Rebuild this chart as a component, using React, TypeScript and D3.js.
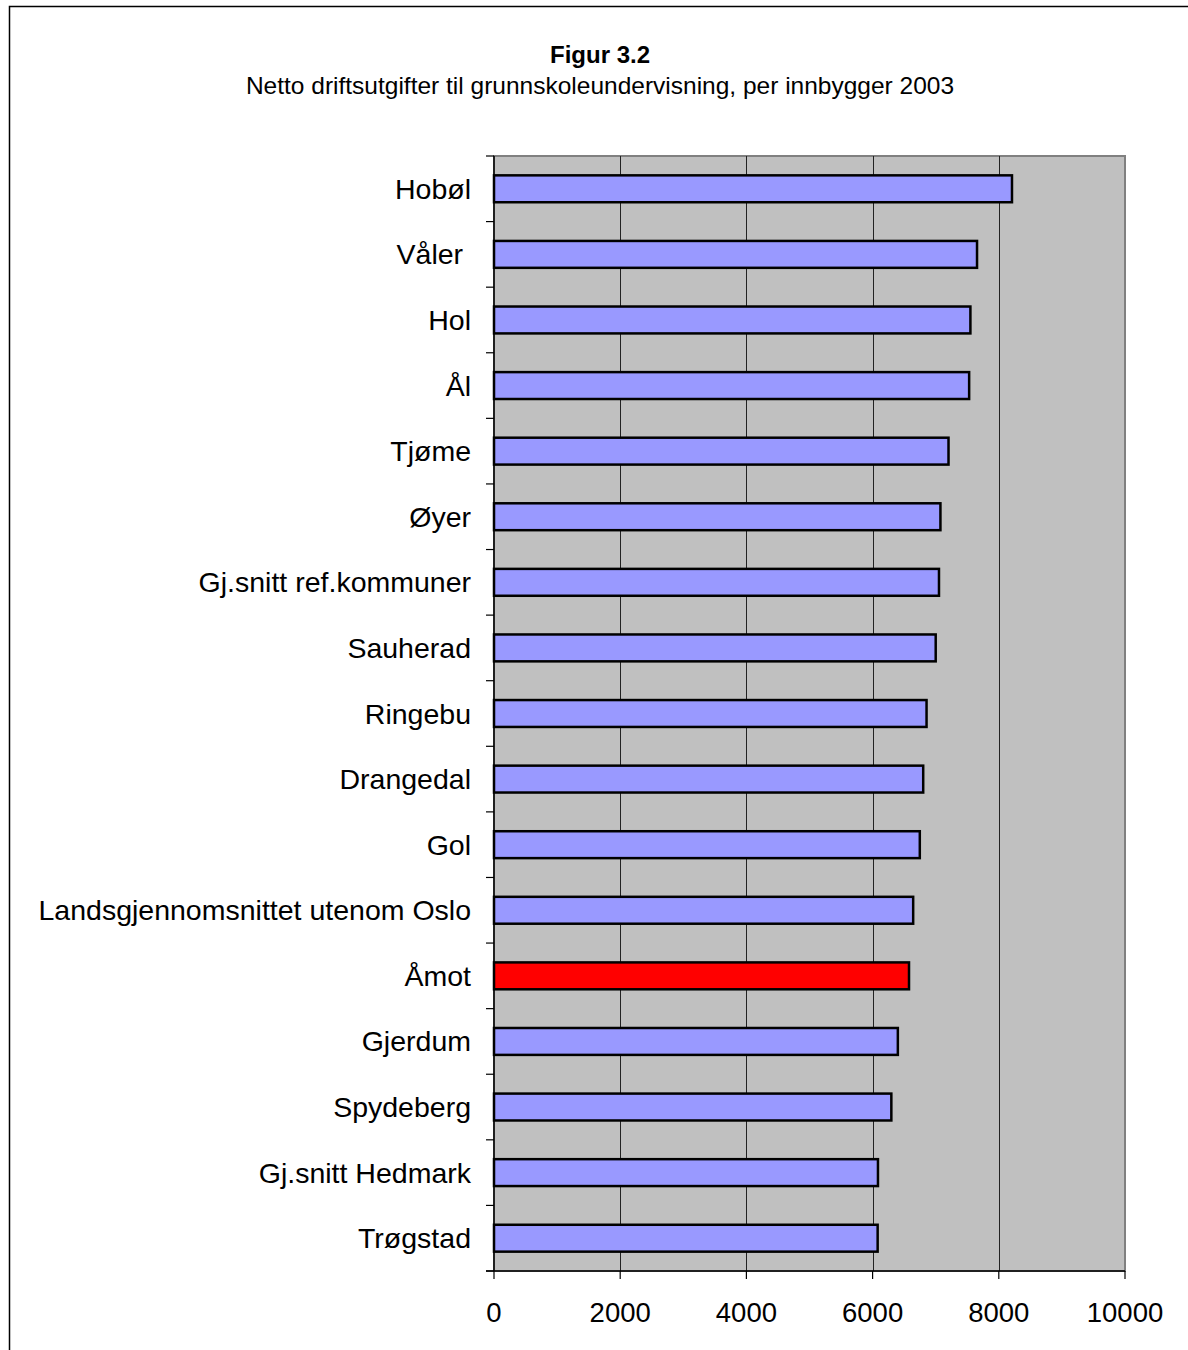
import React from "react";
import * as d3 from "d3";

const categories = [
  "Hobøl",
  "Våler ",
  "Hol",
  "Ål",
  "Tjøme",
  "Øyer",
  "Gj.snitt ref.kommuner",
  "Sauherad",
  "Ringebu",
  "Drangedal",
  "Gol",
  "Landsgjennomsnittet utenom Oslo",
  "Åmot",
  "Gjerdum",
  "Spydeberg",
  "Gj.snitt Hedmark",
  "Trøgstad",
];
const values = [8209, 7655, 7550, 7530, 7203, 7075, 7052, 7000, 6855, 6802, 6748, 6643, 6577, 6400, 6297, 6085, 6080];
const highlight = ["Åmot"];
const xTicks = [0, 2000, 4000, 6000, 8000, 10000];
const title = "Figur 3.2";
const subtitle = "Netto driftsutgifter til grunnskoleundervisning, per innbygger 2003";

export default function App() {
  const W = 1188, H = 1350;
  const left = 494, right = 1125, top = 156, bottom = 1271;
  const x = d3.scaleLinear().domain([0, 10000]).range([left, right]);
  const y = d3.scaleBand<string>().domain(categories).range([top, bottom]).paddingInner(0.59).paddingOuter(0.295);
  const band = (bottom - top) / categories.length;
  const font = "Arial, 'Liberation Sans', sans-serif";
  return (
    <svg width={W} height={H} style={{ position: "absolute", left: 0, top: 0, background: "#fff" }} fontFamily={font}>
      <rect x={9.5} y={6.5} width={W + 10} height={H + 10} fill="none" stroke="#000" strokeWidth={1.5} />
      <text x={600} y={63} textAnchor="middle" fontSize={24} fontWeight="bold">{title}</text>
      <text x={600} y={94} textAnchor="middle" fontSize={24.5}>{subtitle}</text>
      <rect x={left} y={top} width={right - left} height={bottom - top} fill="#C0C0C0" stroke="#808080" strokeWidth={2} />
      {xTicks.slice(1, -1).map((t) => (
        <line key={t} x1={Math.round(x(t)) + 0.5} x2={Math.round(x(t)) + 0.5} y1={top} y2={bottom} stroke="#222" strokeWidth={1} />
      ))}
      {categories.map((c, i) => (
        <rect
          key={c}
          x={x(0)}
          y={y(c)!}
          width={x(values[i]) - x(0)}
          height={y.bandwidth()}
          fill={highlight.includes(c) ? "#FF0000" : "#9999FF"}
          stroke="#000"
          strokeWidth={2.5}
        />
      ))}
      <line x1={left} x2={left} y1={top} y2={bottom} stroke="#000" strokeWidth={1.5} />
      <line x1={left - 8} x2={right} y1={bottom} y2={bottom} stroke="#000" strokeWidth={1.5} />
      {d3.range(categories.length + 1).map((i) => (
        <line key={i} x1={left - 8} x2={left} y1={top + i * band} y2={top + i * band} stroke="#000" strokeWidth={1.2} />
      ))}
      {xTicks.map((t) => (
        <g key={t}>
          <line x1={x(t)} x2={x(t)} y1={bottom} y2={bottom + 8} stroke="#000" strokeWidth={1.2} />
          <text x={x(t)} y={1322} textAnchor="middle" fontSize={27.5}>{t}</text>
        </g>
      ))}
      {categories.map((c) => (
        <text key={c} x={471} y={y(c)! + y.bandwidth() / 2 + 10} textAnchor="end" fontSize={28.5} style={{ whiteSpace: "pre" }}>
          {c}
        </text>
      ))}
    </svg>
  );
}
